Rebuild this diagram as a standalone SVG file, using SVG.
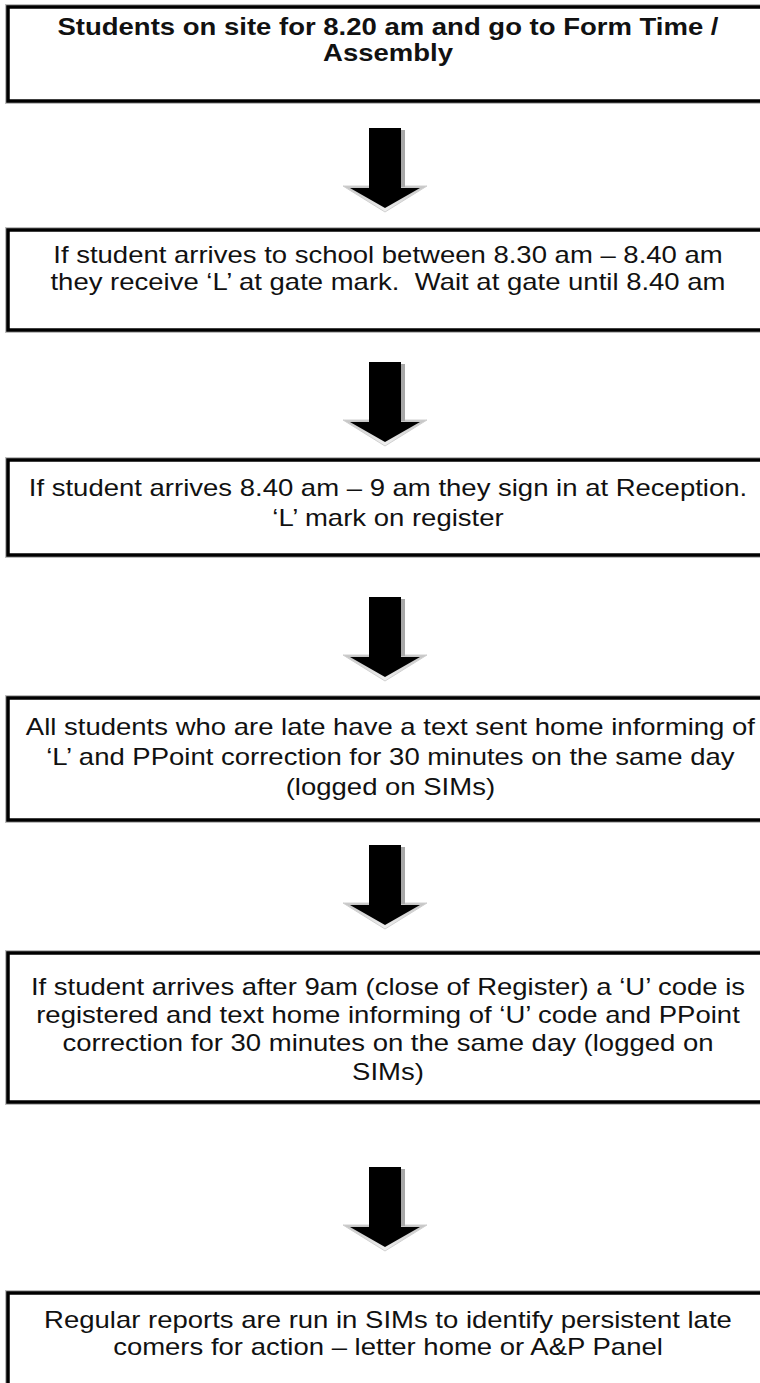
<svg xmlns="http://www.w3.org/2000/svg" width="760" height="1383" viewBox="0 0 760 1383">
<style>
.box{fill:#fff;stroke:#000;stroke-width:3.5}
.halo{fill:none;stroke:#bdbdbd;stroke-width:6}
.t{font-family:"Liberation Sans",Arial,sans-serif;font-size:23px;fill:#111;text-anchor:middle}
.b{font-weight:bold}
</style>
<defs>
<linearGradient id="hg" x1="0" y1="0" x2="0" y2="1">
<stop offset="0" stop-color="#c4c4c4"/>
<stop offset="1" stop-color="#f2f2f2"/>
</linearGradient>
<g id="arr">
<polygon points="-42,58 42,58 0,84" fill="url(#hg)" stroke="#d0d0d0" stroke-width="1"/>
<rect x="16" y="2" width="4" height="57" fill="#a8a8a8"/>
<rect x="-16" y="0" width="32" height="62" fill="#000"/>
<polygon points="-35,60 35,60 0,80" fill="#000"/>
</g>
</defs>
<rect width="760" height="1383" fill="#fff"/>
<g id="connectors">
<use href="#arr" x="385" y="128"/>
<use href="#arr" x="385" y="362"/>
<use href="#arr" x="385" y="597"/>
<use href="#arr" x="385" y="845"/>
<use href="#arr" x="385" y="1167"/>
</g>
<g id="n1">
<rect class="halo" x="8" y="7" width="800" height="94"/>
<rect class="box" x="8" y="7" width="800" height="94"/>
<g transform="matrix(1.196 0 0 1 -76.05 0)">
<text class="t b" x="388" y="35">Students on site for 8.20 am and go to Form Time /</text>
<text class="t b" x="388" y="61">Assembly</text>
</g>
</g>
<g id="n2">
<rect class="halo" x="8" y="230" width="800" height="100"/>
<rect class="box" x="8" y="230" width="800" height="100"/>
<g transform="matrix(1.196 0 0 1 -76.05 0)">
<text class="t" x="388" y="263">If student arrives to school between 8.30 am – 8.40 am</text>
<text class="t" x="388" y="290" xml:space="preserve">they receive ‘L’ at gate mark.  Wait at gate until 8.40 am</text>
</g>
</g>
<g id="n3">
<rect class="halo" x="8" y="460" width="800" height="95"/>
<rect class="box" x="8" y="460" width="800" height="95"/>
<g transform="matrix(1.196 0 0 1 -76.05 0)">
<text class="t" x="388" y="496">If student arrives 8.40 am – 9 am they sign in at Reception.</text>
<text class="t" x="388" y="526">‘L’ mark on register</text>
</g>
</g>
<g id="n4">
<rect class="halo" x="8" y="698" width="800" height="122"/>
<rect class="box" x="8" y="698" width="800" height="122"/>
<g transform="matrix(1.196 0 0 1 -76.05 0)">
<text class="t" x="390" y="735">All students who are late have a text sent home informing of</text>
<text class="t" x="390" y="765">‘L’ and PPoint correction for 30 minutes on the same day</text>
<text class="t" x="390" y="795">(logged on SIMs)</text>
</g>
</g>
<g id="n5">
<rect class="halo" x="8" y="953" width="800" height="149"/>
<rect class="box" x="8" y="953" width="800" height="149"/>
<g transform="matrix(1.196 0 0 1 -76.05 0)">
<text class="t" x="388" y="995">If student arrives after 9am (close of Register) a ‘U’ code is</text>
<text class="t" x="388" y="1023">registered and text home informing of ‘U’ code and PPoint</text>
<text class="t" x="388" y="1051">correction for 30 minutes on the same day (logged on</text>
<text class="t" x="388" y="1080">SIMs)</text>
</g>
</g>
<g id="n6">
<rect class="halo" x="8" y="1293" width="800" height="200"/>
<rect class="box" x="8" y="1293" width="800" height="200"/>
<g transform="matrix(1.196 0 0 1 -76.05 0)">
<text class="t" x="388" y="1328">Regular reports are run in SIMs to identify persistent late</text>
<text class="t" x="388" y="1355">comers for action – letter home or A&amp;P Panel</text>
</g>
</g>
</svg>
